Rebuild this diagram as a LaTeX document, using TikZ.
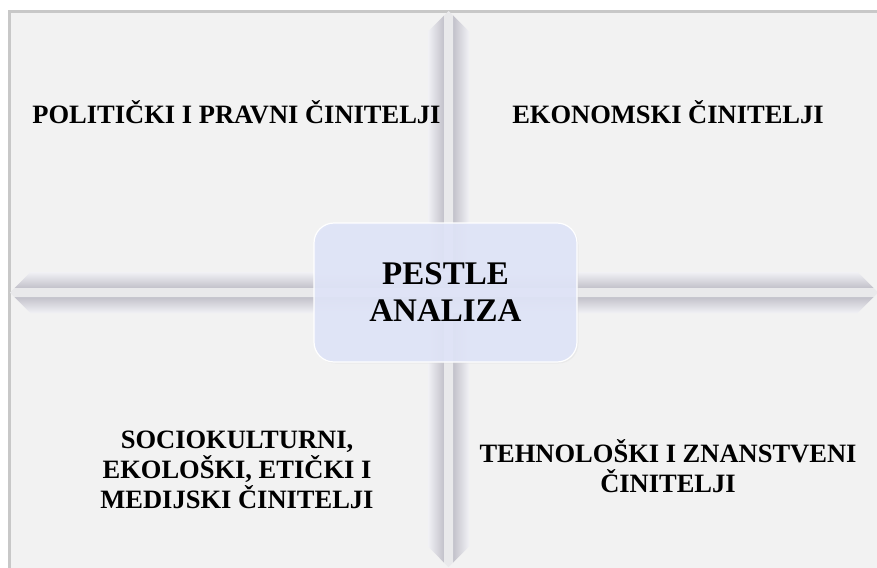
\documentclass[tikz,border=0pt]{standalone}
\usepackage{fontspec}
\setmainfont{Liberation Serif}
\definecolor{panelgray}{HTML}{F2F2F2}
\definecolor{framegray}{HTML}{C8C8C8}
\definecolor{bardark}{HTML}{C2C1CA}
\definecolor{barlight}{HTML}{F1F1F5}
\definecolor{barstripe}{HTML}{E9E9EB}
\definecolor{hubfill}{HTML}{DFE4F8}
\tikzset{
  lbl/.style={font=\fontsize{26.5}{30}\selectfont\bfseries, align=center, inner sep=0pt, text=black},
  hublbl/.style={font=\fontsize{33}{37}\selectfont\bfseries, align=center, inner sep=0pt, text=black},
  hubbox/.style={rounded corners=20pt, fill=hubfill, fill opacity=0.9, draw=white, line width=1.2pt}
}
\begin{document}
\begin{tikzpicture}[x=1pt,y=-1pt]
\useasboundingbox (0,0) rectangle (877,567);
\fill[white] (0,0) rectangle (877,567);
% quadrant panel with its frame
\fill[panelgray] (10,12) rectangle (880,570);
\draw[framegray, line width=2.6pt] (9.3,570) -- (9.3,11.3) -- (880,11.3);

% vertical divider
\shade[left color=barlight, right color=bardark]
  (444,15.5) -- (444,562.5) -- (428,546.5) -- (428,31.5) -- cycle;
\shade[left color=bardark, right color=barlight]
  (453,15.5) -- (469,31.5) -- (469,546.5) -- (453,562.5) -- cycle;
\fill[barstripe] (448.5,11) -- (453,15.5) -- (453,562.5) -- (448.5,567) -- (444,562.5) -- (444,15.5) -- cycle;

% horizontal divider
\shade[top color=barlight, bottom color=bardark]
  (14.5,288) -- (30.5,272) -- (857.5,272) -- (873.5,288) -- cycle;
\shade[top color=bardark, bottom color=barlight]
  (14.5,297) -- (873.5,297) -- (857.5,313) -- (30.5,313) -- cycle;
\fill[barstripe] (10,292.5) -- (14.5,288) -- (873.5,288) -- (878,292.5) -- (873.5,297) -- (14.5,297) -- cycle;

% central hub
\fill[black!18, opacity=0.25, rounded corners=20pt] (315.5,224.5) rectangle (578.5,363.5);
\draw[hubbox] (314,223) rectangle (577,362);
\node[hublbl] (hub) at (445.5,292.5) {PESTLE\\ANALIZA};

% quadrant labels
\node[lbl, anchor=base] (pol) at (236.5,124) {POLITIČKI I PRAVNI ČINITELJI};
\node[lbl, anchor=base] (eko) at (668,124) {EKONOMSKI ČINITELJI};
\node[lbl] (soc) at (237,469.5) {SOCIOKULTURNI,\\EKOLOŠKI, ETIČKI I\\MEDIJSKI ČINITELJI};
\node[lbl] (teh) at (668,466) {TEHNOLOŠKI I ZNANSTVENI\\ČINITELJI};
\end{tikzpicture}
\end{document}
